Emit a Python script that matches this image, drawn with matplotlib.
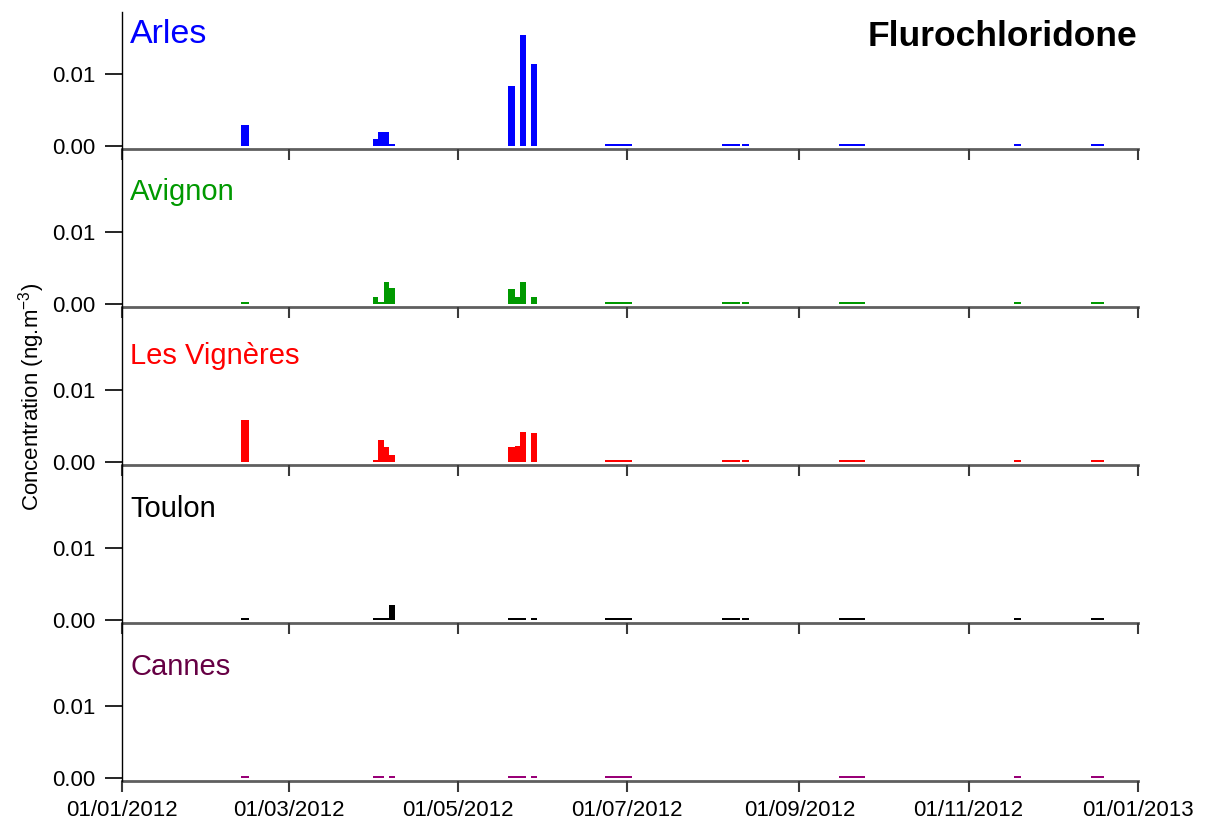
import numpy as np
import matplotlib
matplotlib.use("Agg")
import matplotlib.pyplot as plt
import matplotlib.dates as mdates
import matplotlib.transforms as mtransforms
from datetime import datetime

plt.rcParams['font.family'] = ['Liberation Sans', 'DejaVu Sans']

# Sampling periods (start / end of each filter exposure)
sample_start = [
    "2012-02-13 00:00",
    "2012-03-31 08:00", "2012-04-02 08:00", "2012-04-04 08:00", "2012-04-06 08:00",
    "2012-05-19 01:00", "2012-05-21 18:00", "2012-05-23 05:00", "2012-05-27 05:00",
    "2012-06-23 00:00", "2012-06-25 10:00", "2012-06-27 20:00", "2012-06-30 06:00",
    "2012-08-04 03:00", "2012-08-06 06:00", "2012-08-08 10:00", "2012-08-11 12:00",
    "2012-09-15 07:00", "2012-09-17 14:00", "2012-09-19 21:00", "2012-09-22 08:00",
    "2012-11-17 07:00",
    "2012-12-15 05:00",
]
sample_end = [
    "2012-02-15 16:00",
    "2012-04-02 08:00", "2012-04-04 08:00", "2012-04-06 08:00", "2012-04-08 08:00",
    "2012-05-21 18:00", "2012-05-23 05:00", "2012-05-25 12:00", "2012-05-29 14:00",
    "2012-06-25 10:00", "2012-06-27 20:00", "2012-06-30 06:00", "2012-07-02 16:00",
    "2012-08-06 06:00", "2012-08-08 10:00", "2012-08-10 14:00", "2012-08-13 21:00",
    "2012-09-17 14:00", "2012-09-19 21:00", "2012-09-22 08:00", "2012-09-24 16:00",
    "2012-11-19 20:00",
    "2012-12-19 17:00",
]

tr = 0.00025   # trace level
nan = np.nan

arles = [0.0029,
         0.00097, 0.0020, 0.0020, tr,
         0.0083, nan, 0.0154, 0.0114,
         tr, tr, tr, tr,
         tr, tr, tr, tr,
         tr, tr, tr, tr,
         tr,
         tr]
avignon = [tr,
           0.0010, tr, 0.0031, 0.0022,
           0.0021, 0.0010, 0.0031, 0.0010,
           tr, tr, tr, tr,
           tr, tr, tr, tr,
           tr, tr, tr, tr,
           tr,
           tr]
vigneres = [0.0059,
            tr, 0.0030, 0.0021, 0.0010,
            0.0021, 0.0022, 0.0042, 0.0040,
            tr, tr, tr, tr,
            tr, tr, tr, tr,
            tr, tr, tr, tr,
            tr,
            tr]
toulon = [tr,
          tr, tr, tr, 0.0021,
          tr, tr, tr, tr,
          tr, tr, tr, tr,
          tr, tr, tr, tr,
          tr, tr, tr, tr,
          tr,
          tr]
cannes = [tr,
          tr, tr, nan, tr,
          tr, tr, tr, tr,
          tr, tr, tr, tr,
          nan, nan, nan, nan,
          tr, tr, tr, tr,
          tr,
          tr]

site_names = ["Arles", "Avignon", "Les Vignères", "Toulon", "Cannes"]
site_values = [arles, avignon, vigneres, toulon, cannes]
bar_colors = ["#0000ff", "#009900", "#ff0000", "#000000", "#990077"]
label_colors = ["#0000ff", "#009900", "#ff0000", "#000000", "#660044"]
label_sizes = [24.5, 21, 21, 21, 21]
label_heights = [0.01545, 0.0155, 0.0147, 0.0154, 0.0154]

yticks = [0.00, 0.01]
xtick_dates = ["2012-01-01", "2012-03-01", "2012-05-01", "2012-07-01",
               "2012-09-01", "2012-11-01", "2013-01-01"]

W, H = 1206, 836
fig = plt.figure(figsize=(W / 100, H / 100), dpi=100)

fmt = "%Y-%m-%d %H:%M"
starts = mdates.date2num([datetime.strptime(s, fmt) for s in sample_start])
ends = mdates.date2num([datetime.strptime(s, fmt) for s in sample_end])
widths = ends - starts
xt = mdates.date2num([datetime.strptime(s, "%Y-%m-%d") for s in xtick_dates])

px_per_unit = 7200.0   # pixels per concentration unit
left_px, right_px = 122, 1138
spacing = 158
zero0 = 146
gap_below = 3           # zero sits slightly above the axis line

axes = []
for i, (name, vals) in enumerate(zip(site_names, site_values)):
    y_zero = zero0 + spacing * i
    y_bot = y_zero + gap_below
    y_top = 12 if i == 0 else y_zero - spacing + gap_below + 1
    ax = fig.add_axes([left_px / W, 1 - y_bot / H,
                       (right_px - left_px) / W, (y_bot - y_top) / H])
    ax.set_ylim(-gap_below / px_per_unit, (y_zero - y_top) / px_per_unit)
    ax.set_xlim(xt[0], xt[-1])

    v = np.array(vals, dtype=float)
    ok = ~np.isnan(v)
    ax.bar(starts[ok], v[ok], width=widths[ok], align='edge',
           color=bar_colors[i], edgecolor='none', linewidth=0, zorder=3)

    for s in ["top", "right"]:
        ax.spines[s].set_visible(False)
    ax.spines["left"].set_color("black")
    ax.spines["left"].set_linewidth(1.0)
    ax.spines["bottom"].set_color("#5f5f5f")
    ax.spines["bottom"].set_linewidth(2.0)
    ax.spines["bottom"].set_zorder(1)

    ax.set_yticks(yticks)
    ax.set_yticklabels([f"{t:.2f}" for t in yticks])
    ax.tick_params(axis='y', direction='out', length=12, width=1.2,
                   color='black', labelsize=16, pad=7)
    ax.set_xticks(xt)
    ax.xaxis.set_major_formatter(mdates.DateFormatter("%d/%m/%Y"))
    ax.tick_params(axis='x', direction='out', length=8, width=1.5,
                   color='#3a3a3a', labelsize=16, pad=6)
    if i < len(site_names) - 1:
        ax.tick_params(axis='x', labelbottom=False)
    ax.patch.set_alpha(0)

    trans = mtransforms.blended_transform_factory(ax.transAxes, ax.transData)
    ax.text(8 / (right_px - left_px), label_heights[i], name,
            transform=trans, ha='left', va='center',
            fontsize=label_sizes[i], color=label_colors[i])
    axes.append(ax)

fig.text(1137 / W, 1 - 36 / H, "Flurochloridone", ha='right', va='center',
         fontsize=25.5, fontweight='bold')
fig.text(32 / W, 1 - 397 / H, "Concentration (ng.m$^{\\mathregular{-3}}$)",
         rotation=90, ha='center', va='center', fontsize=16)

fig.savefig("out.png", dpi=100)
